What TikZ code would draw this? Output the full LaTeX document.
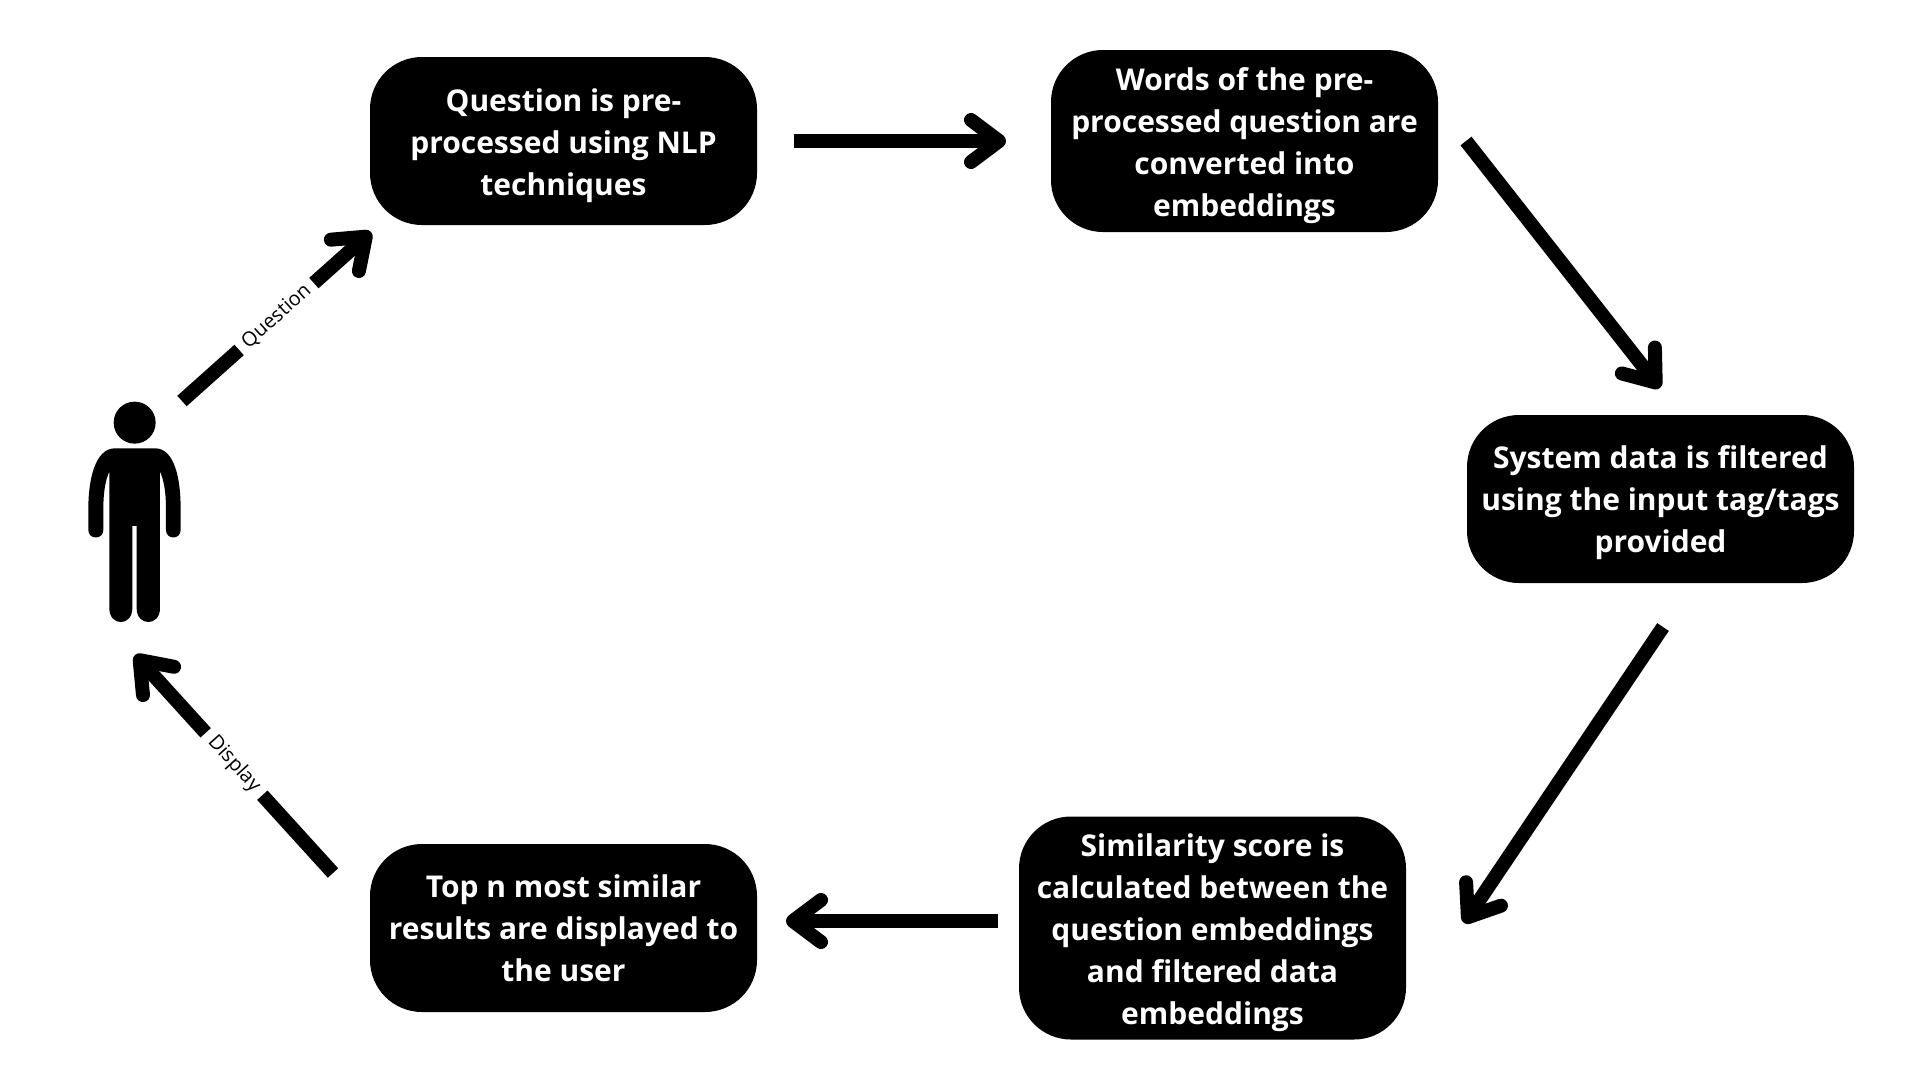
\documentclass[tikz,border=0pt]{standalone}
\usepackage{fontspec}
\setmainfont{Open Sans}
\newfontfamily\labelfont{Open Sans}
\usetikzlibrary{arrows.meta}
\tikzset{
  box/.style={fill=black,rounded corners=52pt,inner sep=0pt,minimum width=387pt},
  boxtext/.style={text=white,align=center,inner sep=0pt,font=\fontsize{30}{42}\selectfont\bfseries},
  flow/.style={line width=14pt,draw=black,-{Straight Barb[length=28pt,width=42pt,line width=14pt,round]}},
  tag/.style={fill=white,inner sep=0pt,minimum height=22pt,font=\labelfont\fontsize{20}{24}\selectfont,sloped}
}
\begin{document}
\begin{tikzpicture}[x=1pt,y=-1pt]
\useasboundingbox (0,0) rectangle (1920,1080);
\node[box,minimum height=168pt] (pre) at (563.5,141) {};
\node[box,minimum height=182pt] (emb) at (1244.5,141) {};
\node[box,minimum height=168pt] (fil) at (1660.5,499) {};
\node[box,minimum height=223pt] (sim) at (1212.5,928) {};
\node[box,minimum height=168pt] (top) at (563.5,928) {};
\node[boxtext] (pret) at ([yshift=-5pt]pre.center) {Question is pre-\\processed using NLP\\techniques};
\node[boxtext] (emt) at ([yshift=-5pt]emb.center) {Words of the pre-\\processed question are\\converted into\\embeddings};
\node[boxtext] (filt) at ([yshift=-4pt]fil.center) {System data is filtered\\using the input tag/tags\\provided};
\node[boxtext] (simt) at ([yshift=-5pt]sim.center) {Similarity score is\\calculated between the\\question embeddings\\and filtered data\\embeddings};
\node[boxtext] (topt) at (top.center) {Top n most similar\\results are displayed to\\the user};
% person
\begin{scope}[shift={(60,200)},x=0.3333pt,y=-0.3333pt]
\fill (224,668) circle[radius=21pt];
\fill (165,745) -- (285,745) .. controls (345,745) and (362,840) .. (362,925) -- (362,990)
  .. controls (362,1020) and (318,1020) .. (318,990) -- (318,925) .. controls (318,880) and (312,840) .. (300,815)
  -- (300,1225) .. controls (300,1280) and (230,1280) .. (230,1225) -- (230,978) -- (217,978) -- (217,1225)
  .. controls (217,1280) and (148,1280) .. (148,1225) -- (148,815) .. controls (136,840) and (130,880) .. (130,925)
  -- (130,990) .. controls (130,1020) and (85,1020) .. (85,990) -- (85,925) .. controls (85,840) and (105,745) .. (165,745) -- cycle;
\end{scope}
\coordinate (a1s) at (182,401); \coordinate (a1e) at (371,232);
\coordinate (a2s) at (794,141); \coordinate (a2e) at (1006,141);
\coordinate (a3s) at (1466,141); \coordinate (a3e) at (1660,388);
\coordinate (a4s) at (1663,627); \coordinate (a4e) at (1464,923);
\coordinate (a5s) at (998,921); \coordinate (a5e) at (786,921);
\coordinate (a6s) at (333,873); \coordinate (a6e) at (135,655);
\draw[flow] (a1s) -- node[tag,minimum width=100pt,midway]{Question} (a1e);
\draw[flow] (a2s) -- (a2e);
\draw[flow] (a3s) -- (a3e);
\draw[flow] (a4s) -- (a4e);
\draw[flow] (a5s) -- (a5e);
\draw[flow] (a6s) -- node[tag,minimum width=84pt,midway]{Display} (a6e);
\end{tikzpicture}
\end{document}
